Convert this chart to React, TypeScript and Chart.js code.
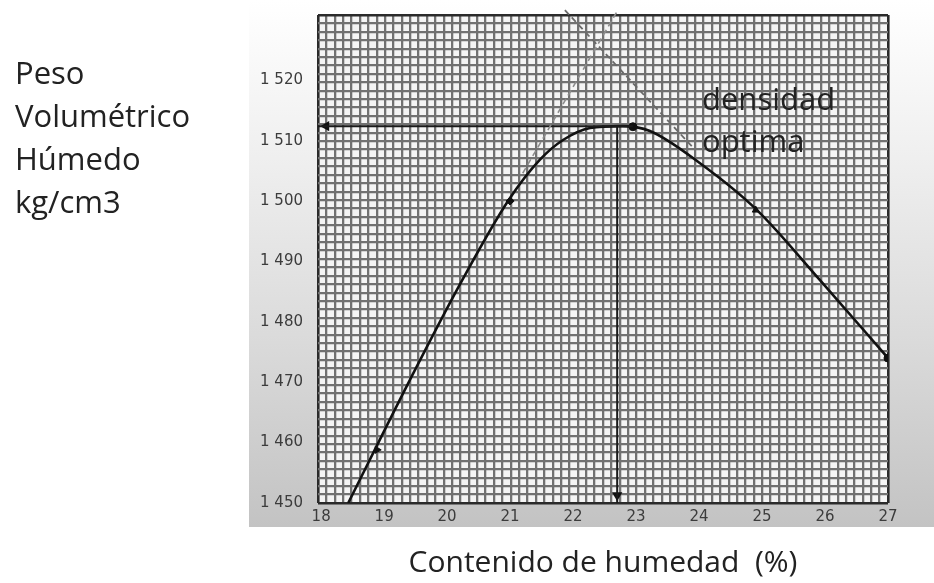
import React, { useEffect, useRef } from "react";
import { Chart, registerables } from "chart.js";

Chart.register(...registerables);

// ---- data ----
const xTickValues = [18, 19, 20, 21, 22, 23, 24, 25, 26, 27];
const yTickValues = [1450, 1460, 1470, 1480, 1490, 1500, 1510, 1520];

// compaction curve (moisture %, wet unit weight)
const curveX = [18.43, 19.41, 20.24, 20.98, 21.47, 21.84, 22.27, 22.78, 23.22, 24.01, 24.92, 25.92, 27.0];
const curveY = [1450, 1470.4, 1486.9, 1500.2, 1506.8, 1510.1, 1512.1, 1512.4, 1511.6, 1506.3, 1498.5, 1486.9, 1474];

// measured points
const markerX = [18.89, 21.0, 22.95, 24.9, 27.0];
const markerY = [1458.8, 1500, 1512.3, 1498.5, 1474];

// optimum
const optimumMoisture = 22.7;
const maxDensity = 1512.4;
const densityLineEndX = 22.95;

// dashed construction lines
const tangentAX = [21.2, 22.71];
const tangentAY = [1504.6, 1531.6];
const tangentBX = [21.87, 23.9];
const tangentBY = [1531.6, 1508.9];

const X_MIN = 17.95;
const X_MAX = 27;
const Y_MIN = 1450;
const Y_MAX = 1530.8;

// graph paper cells
const GRID_COLS = 68;
const GRID_ROWS = 58;

const toPts = (xs: number[], ys: number[]) => xs.map((x, i) => ({ x, y: ys[i] }));

const paperPlugin = {
  id: "paper",
  beforeDraw(chart: any) {
    const { ctx, chartArea } = chart;
    ctx.save();
    const panelLeft = chartArea.left - 69;
    const panelBottom = chartArea.bottom + 24;
    const g = ctx.createLinearGradient(0, 0, 0, panelBottom);
    g.addColorStop(0, "#ffffff");
    g.addColorStop(0.3, "#efefef");
    g.addColorStop(0.65, "#dadada");
    g.addColorStop(1, "#c3c3c3");
    ctx.fillStyle = g;
    ctx.fillRect(panelLeft, 0, chart.width - panelLeft, panelBottom);
    ctx.fillStyle = "#f5f5f5";
    ctx.fillRect(chartArea.left, chartArea.top, chartArea.right - chartArea.left, chartArea.bottom - chartArea.top);
    ctx.restore();
  },
};

const zeroPad = (s: any) => {
  s.paddingTop = 0;
  s.paddingBottom = 0;
  s.paddingLeft = 0;
  s.paddingRight = 0;
};

export default function App() {
  const ref = useRef<HTMLCanvasElement | null>(null);

  useEffect(() => {
    if (!ref.current) return;
    const edge = (c: any, n: number) => c.tick && (c.tick.value === 0 || c.tick.value === n);
    const chart = new Chart(ref.current, {
      type: "line",
      data: {
        datasets: [
          {
            label: "tangent A",
            data: toPts(tangentAX, tangentAY),
            borderColor: "#8c8c8c",
            borderWidth: 1.6,
            borderDash: [6, 4],
            pointRadius: 0,
            clip: false as any,
          },
          {
            label: "tangent B",
            data: toPts(tangentBX, tangentBY),
            borderColor: "#6a6a6a",
            borderWidth: 1.8,
            borderDash: [6, 4],
            pointRadius: 0,
            clip: false as any,
          },
          {
            label: "densidad max",
            data: [
              { x: X_MIN, y: maxDensity },
              { x: densityLineEndX, y: maxDensity },
            ],
            borderColor: "#1a1a1a",
            borderWidth: 2,
            pointRadius: 0,
          },
          {
            label: "humedad optima",
            data: [
              { x: optimumMoisture, y: maxDensity },
              { x: optimumMoisture, y: Y_MIN },
            ],
            borderColor: "#1a1a1a",
            borderWidth: 2,
            pointRadius: 0,
          },
          {
            label: "arrows",
            data: [
              { x: X_MIN + 0.13, y: maxDensity },
              { x: optimumMoisture, y: Y_MIN + 1.3 },
            ],
            showLine: false,
            pointStyle: "triangle",
            pointRotation: [-90, 180] as any,
            pointRadius: 6,
            backgroundColor: "#111",
            borderColor: "#111",
            borderWidth: 0,
          },
          {
            label: "curva",
            data: toPts(curveX, curveY),
            borderColor: "#111111",
            borderWidth: 2.6,
            cubicInterpolationMode: "monotone",
            pointRadius: 0,
          },
          {
            label: "puntos",
            data: toPts(markerX, markerY),
            showLine: false,
            pointStyle: ["triangle", "rectRot", "circle", "triangle", "circle"] as any,
            pointRotation: [90, 0, 0, 0, 0] as any,
            pointRadius: 4,
            backgroundColor: "#111",
            borderColor: "#111",
            borderWidth: 1,
          },
        ],
      },
      options: {
        responsive: false,
        animation: false,
        events: [],
        layout: { padding: { top: 15, right: 46, left: 0, bottom: 0 } },
        plugins: {
          legend: { display: false },
          tooltip: { enabled: false },
        },
        scales: {
          x: {
            type: "linear",
            position: "bottom",
            min: X_MIN,
            max: X_MAX,
            afterBuildTicks: (s: any) => {
              s.ticks = xTickValues.map((v) => ({ value: v }));
            },
            afterFit: (s: any) => {
              s.height = 80;
              zeroPad(s);
            },
            grid: { display: false, drawTicks: false },
            border: { display: false },
            ticks: {
              padding: 5,
              color: "#3c3c3c",
              font: { family: "DejaVu Sans", size: 15 },
              maxRotation: 0,
              autoSkip: false,
            },
            title: {
              display: true,
              text: "Contenido de humedad  (%)",
              color: "#222222",
              font: { family: "Open Sans", size: 30 },
              padding: { top: 0, bottom: 2 },
            },
          },
          y: {
            type: "linear",
            position: "left",
            min: Y_MIN,
            max: Y_MAX,
            afterBuildTicks: (s: any) => {
              s.ticks = yTickValues.map((v) => ({ value: v }));
            },
            afterFit: (s: any) => {
              s.width = 318;
              zeroPad(s);
            },
            grid: { display: false, drawTicks: false },
            border: { display: false },
            ticks: {
              padding: 15,
              color: "#3c3c3c",
              font: { family: "DejaVu Sans", size: 15 },
              autoSkip: false,
              callback: (v: any) => {
                const s = String(v);
                return s.slice(0, 1) + " " + s.slice(1);
              },
            },
          },
          gx: {
            type: "linear",
            position: "top",
            min: 0,
            max: GRID_COLS,
            afterFit: (s: any) => {
              s.height = 0;
              zeroPad(s);
            },
            ticks: { display: false, stepSize: 1 },
            border: { display: false },
            grid: {
              drawTicks: false,
              color: (c: any) => (edge(c, GRID_COLS) ? "#2a2a2a" : "#727272"),
              lineWidth: (c: any) => (edge(c, GRID_COLS) ? 2.6 : 2.3),
            },
          },
          gy: {
            type: "linear",
            position: "right",
            min: 0,
            max: GRID_ROWS,
            afterFit: (s: any) => {
              s.width = 0;
              zeroPad(s);
            },
            ticks: { display: false, stepSize: 1 },
            border: { display: false },
            grid: {
              drawTicks: false,
              color: (c: any) => (edge(c, GRID_ROWS) ? "#2a2a2a" : "#727272"),
              lineWidth: (c: any) => (edge(c, GRID_ROWS) ? 2.6 : 2.3),
            },
          },
        },
      } as any,
      plugins: [paperPlugin],
    });
    return () => chart.destroy();
  }, []);

  const textStyle: React.CSSProperties = {
    position: "absolute",
    fontFamily: "'Open Sans', sans-serif",
    fontSize: 31,
    color: "#222222",
    whiteSpace: "nowrap",
  };

  return (
    <div style={{ position: "fixed", left: 0, top: 0, width: 934, height: 583, background: "#ffffff" }}>
      <canvas ref={ref} width={934} height={583} style={{ display: "block" }} />
      <div style={{ ...textStyle, left: 15, top: 51, lineHeight: "43px" }}>
        Peso
        <br />
        Volumétrico
        <br />
        Húmedo
        <br />
        kg/cm3
      </div>
      <div style={{ ...textStyle, left: 702, top: 77, lineHeight: "42px" }}>
        densidad
        <br />
        optima
      </div>
    </div>
  );
}
